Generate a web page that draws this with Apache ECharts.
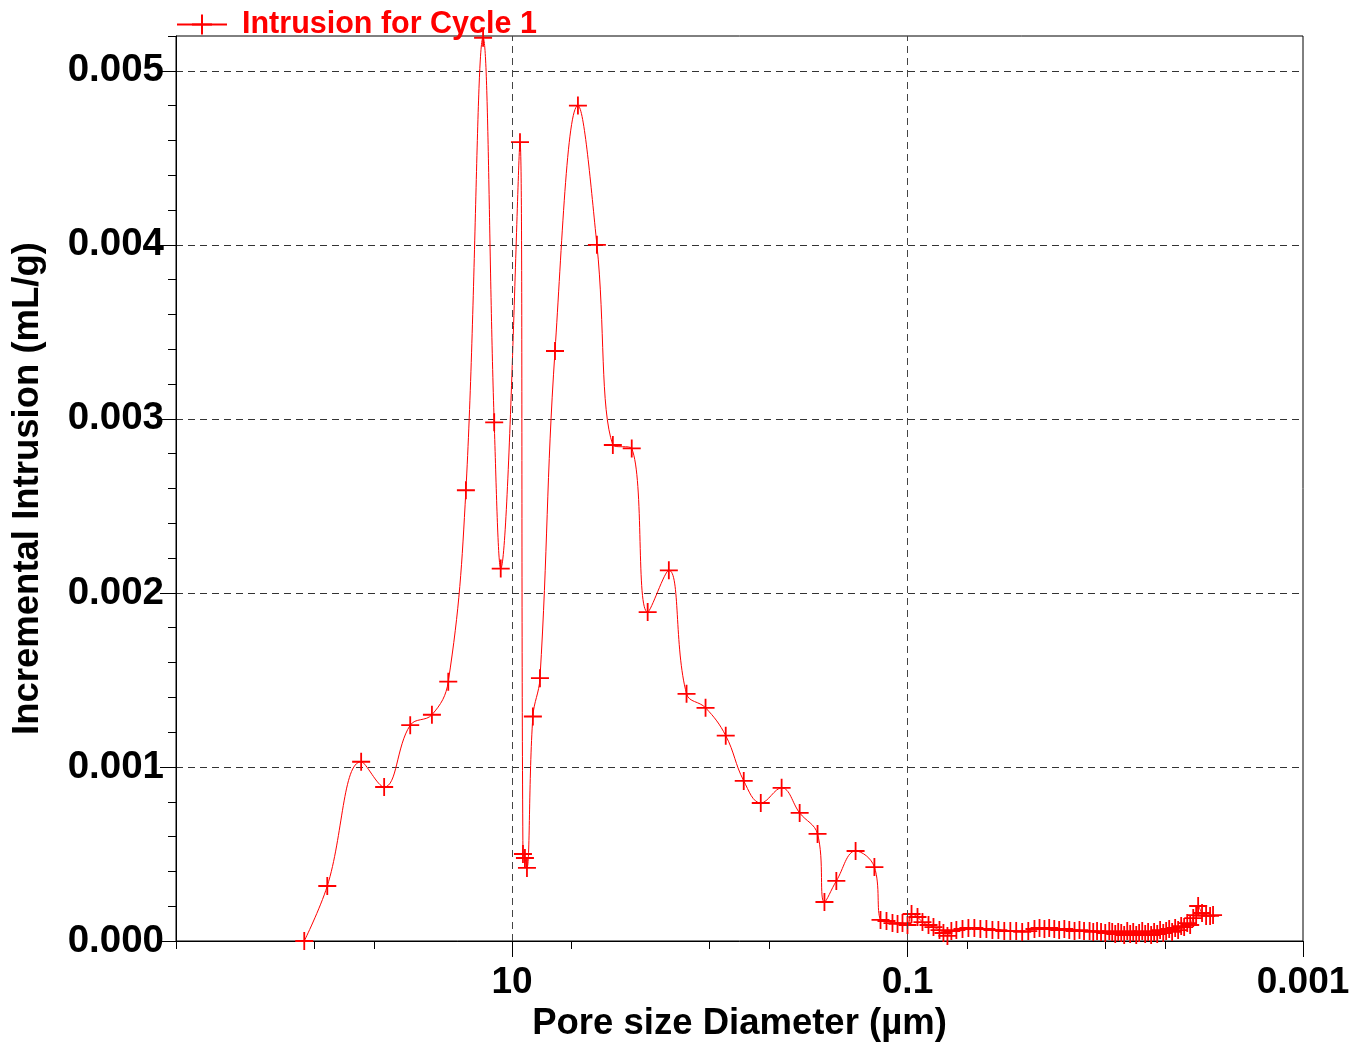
<!DOCTYPE html>
<html>
<head>
<meta charset="utf-8">
<title>Incremental Intrusion</title>
<script src="https://cdn.jsdelivr.net/npm/echarts@6/dist/echarts.min.js"></script>
<style>
  html, body { margin: 0; padding: 0; background: #fff; }
  #chart { width: 1363px; height: 1043px; }
</style>
</head>
<body>
<div id="chart"></div>
<script>
// pore diameter (µm)
const diameter = [
  112.3, 85.9, 57.9, 44.3, 32.7, 25.4, 21.0, 17.1, 14.0, 12.3,
  11.4, 9.11, 8.8, 8.6, 8.4, 7.84, 7.22, 6.06, 4.64, 3.72,
  3.09, 2.48, 2.06, 1.61, 1.31, 1.05, 0.83, 0.673, 0.552, 0.433,
  0.351, 0.285, 0.263, 0.229, 0.183, 0.147,
  0.1369, 0.1277, 0.1191, 0.1123, 0.1060, 0.1000, 0.0954, 0.0890, 0.0840, 0.0783,
  0.0739, 0.0689, 0.0658, 0.0628, 0.0600, 0.0566, 0.0527, 0.0492, 0.0459, 0.0428,
  0.0399, 0.0372, 0.0347, 0.0324, 0.0302, 0.0282, 0.0263, 0.0245, 0.0228, 0.0215,
  0.0203, 0.0192, 0.0181, 0.0171, 0.0161, 0.0152, 0.0143, 0.0135, 0.0128, 0.0120,
  0.0115, 0.0110, 0.0105, 0.0100, 0.00954, 0.00922, 0.00890, 0.00860, 0.00830, 0.00802,
  0.00774, 0.00748, 0.00722, 0.00697, 0.00674, 0.00650, 0.00628, 0.00607, 0.00586, 0.00566,
  0.00546, 0.00528, 0.00509, 0.00492, 0.00475, 0.00459, 0.00443, 0.00428, 0.00413, 0.00399,
  0.00385, 0.00372, 0.00359, 0.00347, 0.00339, 0.00324, 0.00309, 0.00295, 0.00285
];

// incremental intrusion (mL/g)
const intrusion = [
  0, 0.000316, 0.00103, 0.000885, 0.00124, 0.0013, 0.00149, 0.00259, 0.00519, 0.00298,
  0.00214, 0.00459, 0.0005, 0.000477, 0.00042, 0.00129, 0.00151, 0.00339, 0.0048, 0.004,
  0.00285, 0.00283, 0.00189, 0.00213, 0.00142, 0.00134, 0.00118, 0.00092, 0.000793, 0.00088,
  0.000736, 0.000615, 0.000224, 0.000345, 0.000517, 0.000425,
  0.000121, 0.000115, 0.000103, 0.000098, 0.000103, 0.000092, 0.000155, 0.000138, 0.000109, 0.000092,
  0.000080, 0.000063, 0.000046, 0.000029, 0.000057, 0.000063, 0.000069, 0.000075, 0.000075, 0.000069,
  0.000069, 0.000063, 0.000063, 0.000057, 0.000057, 0.000057, 0.000052, 0.000057, 0.000069, 0.000075,
  0.000069, 0.000075, 0.000069, 0.000063, 0.000069, 0.000063, 0.000057, 0.000063, 0.000057, 0.000057,
  0.000052, 0.000057, 0.000052, 0.000046, 0.000057, 0.000052, 0.000040, 0.000052, 0.000046, 0.000034,
  0.000057, 0.000040, 0.000052, 0.000034, 0.000046, 0.000057, 0.000040, 0.000052, 0.000034, 0.000052,
  0.000040, 0.000063, 0.000046, 0.000057, 0.000069, 0.000052, 0.000075, 0.000063, 0.000086, 0.000080,
  0.000103, 0.000092, 0.000132, 0.000149, 0.000201, 0.000161, 0.000144, 0.000144, 0.000149
];

const xLabelTicks = [10, 0.1, 0.001];
const xMinorTicks = [500, 100, 50, 5, 1, 0.5, 0.05, 0.01, 0.005];
const yLabelTicks = [0, 0.001, 0.002, 0.003, 0.004, 0.005];
const gridLinesX = [10, 0.1];

const points = diameter.map((d, i) => [d, intrusion[i]]);

const FONT = '"Liberation Sans", Arial, sans-serif';
const plus = 'path://M9,0 h2 v9 h9 v2 h-9 v9 h-2 v-9 h-9 v-2 h9 z';

const chart = echarts.init(document.getElementById('chart'));

const option = {
  animation: false,
  textStyle: { fontFamily: FONT },
  grid: {
    left: 176, right: 60, top: 36, bottom: 102,
    outerBoundsMode: 'none',
    show: true, borderColor: '#000', borderWidth: 1, backgroundColor: 'transparent'
  },
  legend: {
    data: ['Intrusion for Cycle 1'],
    left: 176, top: 9,
    padding: 0,
    itemWidth: 50, itemHeight: 25,
    textStyle: { color: '#ff0000', fontSize: 30.5, fontWeight: 'bold', fontFamily: FONT, padding: [12, 0, 0, 10] }
  },
  xAxis: [
    {
      type: 'log', logBase: 10, min: 0.001, max: 500, inverse: true,
      name: 'Pore size Diameter (µm)', nameLocation: 'middle', nameGap: 63,
      nameTextStyle: { color: '#000', fontSize: 36.5, fontWeight: 'bold', fontFamily: FONT },
      axisLine: { show: true, lineStyle: { color: '#000', width: 1 } },
      axisTick: { show: true, length: 16, customValues: xLabelTicks, lineStyle: { color: '#000' } },
      axisLabel: {
        customValues: xLabelTicks, margin: 23, color: '#000', fontSize: 37, fontWeight: 'bold', fontFamily: FONT,
        formatter: function (v) {
          const e = Math.log10(v);
          if (Math.abs(e - Math.round(e)) > 1e-6) return '';
          const r = Math.round(e);
          if (r !== 1 && r !== -1 && r !== -3) return '';
          return r >= 0 ? String(Math.pow(10, r)) : Math.pow(10, r).toFixed(-r);
        }
      },
      splitLine: { show: false },
      minorTick: { show: false }
    },
    {
      type: 'log', logBase: 10, min: 0.001, max: 500, inverse: true, position: 'bottom',
      axisLine: { show: false },
      axisTick: { show: true, length: 8, customValues: xMinorTicks, lineStyle: { color: '#000' } },
      axisLabel: { show: false },
      splitLine: { show: false }
    }
  ],
  yAxis: [
    {
      type: 'value', min: 0, max: 0.0052, interval: 0.001,
      name: 'Incremental Intrusion (mL/g)', nameLocation: 'middle', nameGap: 130,
      nameTextStyle: { color: '#000', fontSize: 36.5, fontWeight: 'bold', fontFamily: FONT },
      axisLine: { show: true, lineStyle: { color: '#000', width: 1 } },
      axisTick: { show: true, length: 16, customValues: yLabelTicks, lineStyle: { color: '#000' } },
      axisLabel: {
        customValues: yLabelTicks, margin: 12, color: '#000', fontSize: 38.5, fontWeight: 'bold', fontFamily: FONT,
        formatter: function (v) { return v > 0.00505 ? '' : v.toFixed(3); }
      },
      splitLine: { show: true, lineStyle: { color: '#333', width: 1, type: [7, 5] } }
    },
    {
      type: 'value', min: 0, max: 0.0052, interval: 0.0002, position: 'left',
      axisLine: { show: false },
      axisTick: { show: true, length: 8, lineStyle: { color: '#000' } },
      axisLabel: { show: false },
      splitLine: { show: false }
    }
  ],
  series: [
    {
      name: 'grid',
      type: 'line',
      data: [],
      z: 1,
      silent: true,
      markLine: {
        silent: true,
        symbol: ['none', 'none'],
        label: { show: false },
        lineStyle: { color: '#444', width: 1, type: [7, 5] },
        data: gridLinesX.map(v => ({ xAxis: v }))
      }
    },
    {
      name: 'Intrusion for Cycle 1',
      type: 'line',
      z: 3,
      data: points,
      smooth: 0.4,
      symbol: plus,
      symbolSize: 18,
      showAllSymbol: true,
      itemStyle: { color: '#ff0000' },
      lineStyle: { color: '#ff0000', width: 1 }
    }
  ]
};

chart.setOption(option);
window.addEventListener('resize', function () {
  chart.resize();
});
</script>
</body>
</html>
